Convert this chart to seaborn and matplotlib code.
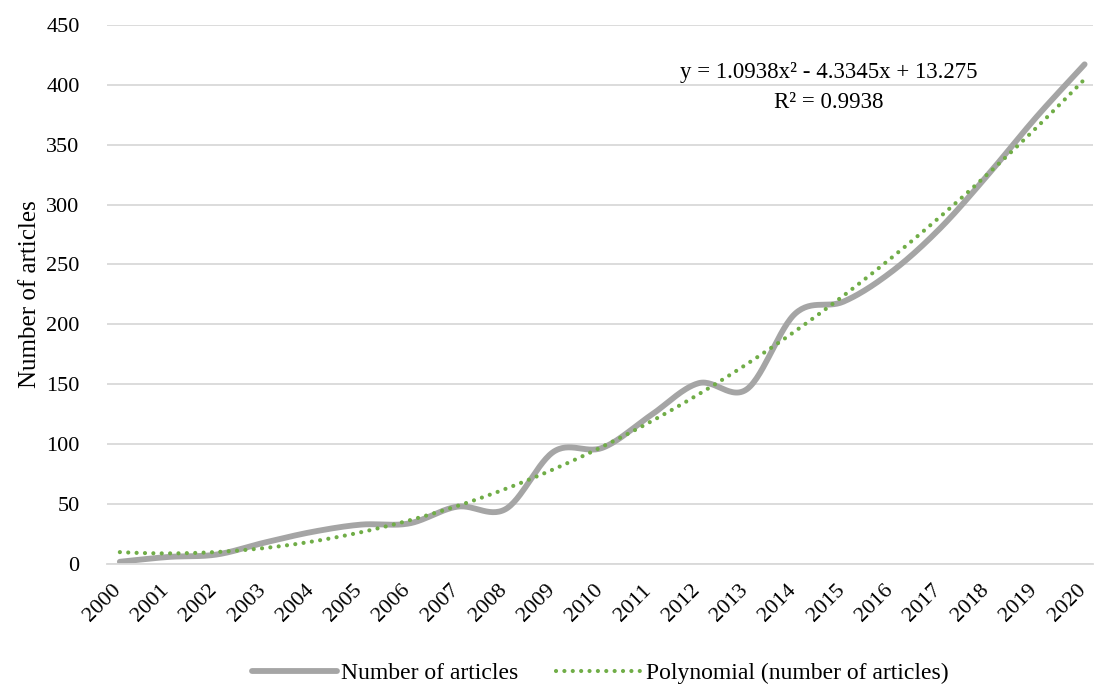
import numpy as np
import pandas as pd
import seaborn as sns
import matplotlib.pyplot as plt
from matplotlib.lines import Line2D
from matplotlib.transforms import ScaledTranslation

years = list(range(2000, 2021))
articles = [2, 6, 8, 18, 27, 33, 34, 48, 46, 94, 97, 124, 151, 146, 209, 219, 244, 280, 325, 373, 417]
# polynomial trendline coefficients shown on the chart (x = 1..21)
poly_coef = [1.0938, -4.3345, 13.275]
eq_label = "y = 1.0938x\u00b2 - 4.3345x + 13.275"
r2_label = "R\u00b2 = 0.9938"

GRAY = "#A5A5A5"
GREEN = "#70AD47"
DOTS = (0, (0.01, 2.0))

sns.set_theme(style="white")
plt.rcParams['font.family'] = ['Liberation Serif', 'DejaVu Serif']
plt.rcParams['text.color'] = 'black'
plt.rcParams['axes.labelcolor'] = 'black'
plt.rcParams['xtick.color'] = 'black'
plt.rcParams['ytick.color'] = 'black'


def smooth(xs, ys, n=30):
    # Catmull-Rom style curve, like Excel's "smoothed line"
    xs = np.asarray(xs, float)
    ys = np.asarray(ys, float)
    px = np.concatenate([[2 * xs[0] - xs[1]], xs, [2 * xs[-1] - xs[-2]]])
    py = np.concatenate([[2 * ys[0] - ys[1]], ys, [2 * ys[-1] - ys[-2]]])
    ox, oy = [], []
    t = np.linspace(0, 1, n, endpoint=False)
    for i in range(1, len(px) - 2):
        for p, out in ((px, ox), (py, oy)):
            p0, p1, p2, p3 = p[i - 1], p[i], p[i + 1], p[i + 2]
            out.extend(0.5 * (2 * p1 + (-p0 + p2) * t + (2 * p0 - 5 * p1 + 4 * p2 - p3) * t ** 2
                              + (-p0 + 3 * p1 - 3 * p2 + p3) * t ** 3))
    ox.append(xs[-1])
    oy.append(ys[-1])
    return np.array(ox), np.array(oy)


idx = np.arange(len(years))
sx, sy = smooth(idx, articles)
df_line = pd.DataFrame({'x': sx, 'y': sy})

tx = np.linspace(0, len(years) - 1, 200)
df_trend = pd.DataFrame({'x': tx, 'y': np.polyval(poly_coef, tx + 1)})

fig = plt.figure(figsize=(10.95, 6.88), dpi=100)
ax = fig.add_axes([0.098, 0.180, 0.900, 0.784])

sns.lineplot(data=df_line, x='x', y='y', ax=ax, color=GRAY, linewidth=4.2,
             sort=False, solid_capstyle='round')
sns.lineplot(data=df_trend, x='x', y='y', ax=ax, color=GREEN, linewidth=3.0,
             linestyle=DOTS, dash_capstyle='round')

ax.set_ylim(0, 450)
ax.set_yticks(range(0, 451, 50))
ax.set_xlim(-0.26, 20.17)
ax.set_xticks(idx)
ax.set_xticklabels([str(y) for y in years], rotation=45, ha='right',
                   rotation_mode='anchor', fontsize=16)
ax.tick_params(axis='y', labelsize=16, length=0, pad=20)
ax.tick_params(axis='x', length=0, pad=12)
# nudge the rotated year labels a little to the left so 2020 stays inside
shift = ScaledTranslation(-6 / 72, 0, fig.dpi_scale_trans)
for lbl in ax.get_xticklabels():
    lbl.set_transform(lbl.get_transform() + shift)
ax.set_xlabel('')
ax.set_ylabel('Number of articles', fontsize=18, labelpad=4)

ax.grid(axis='y', color='#D9D9D9', linewidth=1.3)
ax.set_axisbelow(True)
for s in ['top', 'right', 'left']:
    ax.spines[s].set_visible(False)
ax.spines['bottom'].set_color('#D9D9D9')
ax.spines['bottom'].set_linewidth(1.3)

ax.text(14.7, 410, eq_label, ha='center', va='center', fontsize=16.5)
ax.text(14.7, 385, r2_label, ha='center', va='center', fontsize=16.5)

handles = [Line2D([], [], color=GRAY, linewidth=4.2),
           Line2D([], [], color=GREEN, linewidth=3.0, linestyle=DOTS, dash_capstyle='round')]
fig.legend(handles, ['Number of articles', 'Polynomial (number of articles)'],
           loc='lower center', bbox_to_anchor=(0.548, -0.025), ncol=2, frameon=False,
           fontsize=17, handlelength=3.6, columnspacing=1.6, handletextpad=0.2)

fig.savefig('out.png', dpi=100)
